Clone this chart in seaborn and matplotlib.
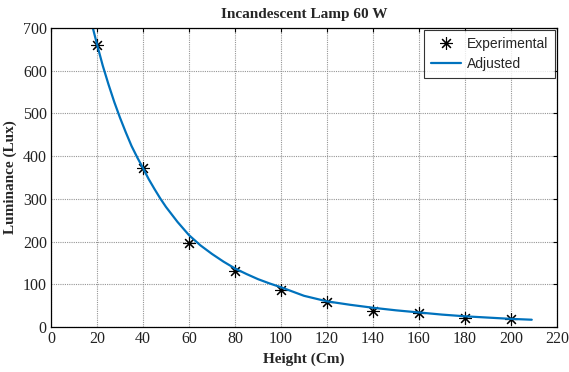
import matplotlib
matplotlib.use("Agg")
import matplotlib.pyplot as plt
import seaborn as sns
import numpy as np

# Experimental data
height_exp = [20, 40, 60, 80, 100, 120, 140, 160, 180, 200]
lux_exp = [661, 373, 196, 130, 87, 58, 37, 32, 20, 18]

# Adjusted (fitted) curve
height_fit = [18.2, 20, 22.5, 25, 27.5, 30, 32.5, 35, 37.5, 40, 42.5, 45, 47.5, 50, 55, 60,
              65, 70, 75, 80, 85, 90, 95, 100, 110, 120,
              130, 140, 150, 160, 170, 180, 190, 200, 209]
lux_fit = [700, 662, 612, 568, 527, 490, 456, 424, 397, 372, 346, 323, 301, 281, 246, 215,
           191, 171, 153, 137, 124, 112, 102, 93, 73, 60,
           52, 45, 39, 34, 29, 25, 22, 19, 17]

x_ticks = list(range(0, 221, 20))
y_ticks = list(range(0, 701, 100))

sns.set_theme(style="white")
plt.rcParams['font.family'] = ['Liberation Serif', 'DejaVu Serif']

fig = plt.figure(figsize=(5.69, 3.72), dpi=100)
ax = fig.add_axes([0.0896, 0.121, 0.8894, 0.8037])

sns.lineplot(x=height_exp, y=lux_exp, ax=ax, linestyle='', marker=(8, 2, 0),
             markersize=9, markeredgewidth=0.8, color='black', markeredgecolor='black',
             label='Experimental')
sns.lineplot(x=height_fit, y=lux_fit, ax=ax, color='#0072BD', linewidth=1.6,
             label='Adjusted')

ax.set_xlim(0, 220)
ax.set_ylim(0, 700)
ax.set_xticks(x_ticks)
ax.set_yticks(y_ticks)
ax.tick_params(direction='in', top=True, right=True, length=3, width=0.8,
               labelsize=11.5, pad=3, colors='black')
for lab in ax.get_xticklabels() + ax.get_yticklabels():
    lab.set_color('#222222')
ax.grid(True, color='#8a8a8a', linestyle=(0, (1, 1)), linewidth=0.8, alpha=0.9)
for s in ax.spines.values():
    s.set_color('black')
    s.set_linewidth(0.9)

ax.set_xlabel('Height (Cm)', fontsize=11, fontweight='bold', labelpad=4)
ax.set_ylabel('Luminance (Lux)', fontsize=11, fontweight='bold', labelpad=4)
ax.set_title('Incandescent Lamp 60 W', fontsize=11, fontweight='bold', pad=7)

leg = ax.legend(loc='upper right', borderaxespad=0.15, fancybox=False, frameon=True,
                prop={'family': ['Liberation Sans Narrow', 'Liberation Sans'], 'size': 10},
                handlelength=2.2, handletextpad=0.4, borderpad=0.5, labelspacing=0.45)
leg.get_frame().set_edgecolor('black')
leg.get_frame().set_linewidth(0.8)

fig.savefig('out.png', dpi=100)
